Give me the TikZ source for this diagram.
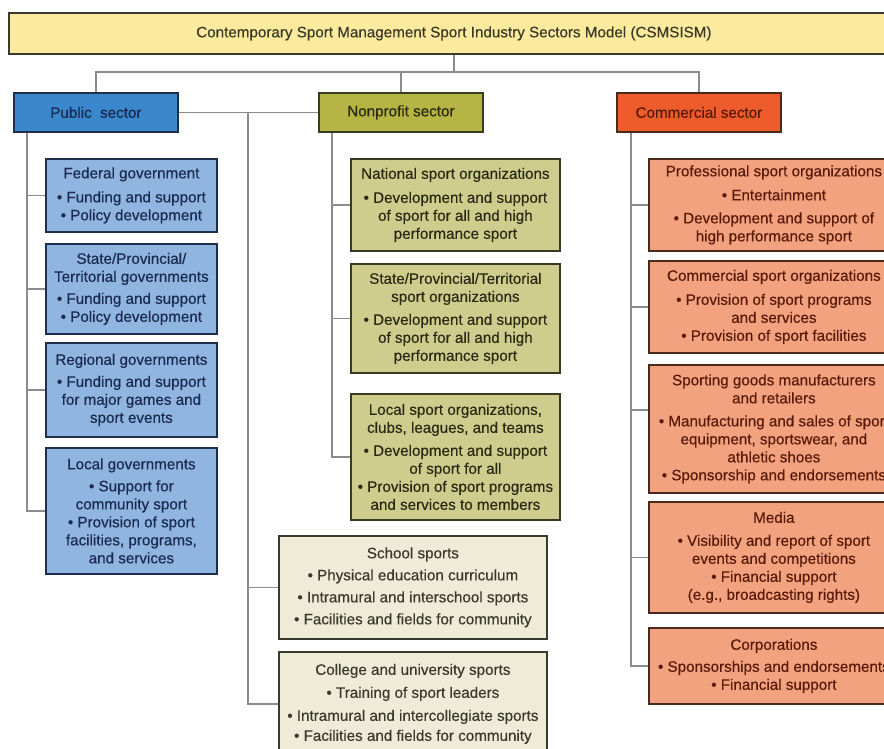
\documentclass[tikz,border=0pt]{standalone}
\usepackage{fontspec}
\setmainfont[FakeBold=0.4]{Liberation Sans}
\definecolor{titlefill}{HTML}{FCEB9E}
\definecolor{titleborder}{HTML}{3A3A30}
\definecolor{titletext}{HTML}{3A3A28}
\definecolor{pubhead}{HTML}{3A87CC}
\definecolor{pubbox}{HTML}{8FB5E0}
\definecolor{pubborder}{HTML}{1F2F4A}
\definecolor{pubtext}{HTML}{1A2A50}
\definecolor{nphead}{HTML}{B5B444}
\definecolor{npbox}{HTML}{CFCD8E}
\definecolor{npborder}{HTML}{3A3A20}
\definecolor{nptext}{HTML}{2A2A12}
\definecolor{comhead}{HTML}{EE5C2C}
\definecolor{combox}{HTML}{F2A27E}
\definecolor{comborder}{HTML}{4A2A1A}
\definecolor{comtext}{HTML}{5A1A0A}
\definecolor{schbox}{HTML}{EEECD6}
\definecolor{schborder}{HTML}{3A3A30}
\definecolor{linecol}{HTML}{8C8C8C}
\begin{document}
\begin{tikzpicture}[x=1pt,y=-1pt,
  box/.style={draw, line width=1.8pt, align=center, inner sep=0pt, anchor=north west,
    font=\fontsize{15.2}{18}\selectfont},
  titlebox/.style={box, fill=titlefill, draw=titleborder, text=titletext},
  pubh/.style={box, fill=pubhead, draw=pubborder, text=pubtext},
  pubb/.style={box, fill=pubbox, draw=pubborder, text=pubtext, minimum width=171},
  nph/.style={box, fill=nphead, draw=npborder, text=nptext},
  npb/.style={box, fill=npbox, draw=npborder, text=nptext, minimum width=209},
  comh/.style={box, fill=comhead, draw=comborder, text=comtext},
  comb/.style={box, fill=combox, draw=comborder, text=comtext, minimum width=250},
  schb/.style={box, fill=schbox, draw=schborder, text=titletext, minimum width=268},
  conn/.style={draw=linecol, line width=1.6pt}]
\useasboundingbox (0,0) rectangle (884,749);
\clip (0,0) rectangle (884,749);
\fill[white] (0,0) rectangle (884,749);

% title and sector headers
\node[titlebox, minimum width=890, minimum height=41] (title) at (8,12)
  {Contemporary Sport Management Sport Industry Sectors Model (CSMSISM)};
\node[pubh, minimum width=164, minimum height=39] (pubs) at (13,92) {Public\ \ sector};
\node[nph, minimum width=164, minimum height=39] (nps) at (318,92) {Nonprofit sector};
\node[comh, minimum width=164, minimum height=39] (coms) at (616,92) {Commercial sector};

% public sector boxes
\node[pubb, minimum height=73] (fed) at (45,158)
  {Federal government\\[6pt]• Funding and support\\• Policy development};
\node[pubb, minimum height=90] (stg) at (45,243)
  {State/Provincial/\\Territorial governments\\[4pt]• Funding and support\\• Policy development};
\node[pubb, minimum height=94] (reg) at (45,342)
  {Regional governments\\[4pt]• Funding and support\\for major games and\\sport events};
\node[pubb, minimum height=126] (locg) at (45,447)
  {Local governments\\[4pt]• Support for\\community sport\\• Provision of sport\\facilities, programs,\\and services};

% nonprofit sector boxes
\node[npb, minimum height=92] (nat) at (350,158)
  {National sport organizations\\[6pt]• Development and support\\of sport for all and high\\performance sport};
\node[npb, minimum height=109] (sts) at (350,263)
  {State/Provincial/Territorial\\sport organizations\\[5pt]• Development and support\\of sport for all and high\\performance sport};
\node[npb, minimum height=126] (lso) at (350,393)
  {Local sport organizations,\\clubs, leagues, and teams\\[5pt]• Development and support\\of sport for all\\• Provision of sport programs\\and services to members};

% school and college boxes
\node[schb, minimum height=103] (sch) at (278,535)
  {School sports\\[4pt]• Physical education curriculum\\[4pt]• Intramural and interschool sports\\[4pt]• Facilities and fields for community};
\node[schb, minimum height=104] (col) at (278,651)
  {College and university sports\\[5pt]• Training of sport leaders\\[5pt]• Intramural and intercollegiate sports\\[2pt]• Facilities and fields for community};

% commercial sector boxes
\node[comb, minimum height=92] (pro) at (648,158)
  {Professional sport organizations\\[6pt]• Entertainment\\[5pt]• Development and support of\\high performance sport};
\node[comb, minimum height=92] (cso) at (648,260)
  {Commercial sport organizations\\[6pt]• Provision of sport programs\\and services\\• Provision of sport facilities};
\node[comb, minimum height=128] (sgm) at (648,364)
  {Sporting goods manufacturers\\and retailers\\[5pt]• Manufacturing and sales of sport\\equipment, sportswear, and\\athletic shoes\\• Sponsorship and endorsements};
\node[comb, minimum height=111] (med) at (648,501)
  {Media\\[5pt]• Visibility and report of sport\\events and competitions\\• Financial support\\(e.g., broadcasting rights)};
\node[comb, minimum height=76] (cor) at (648,627)
  {Corporations\\[4pt]• Sponsorships and endorsements\\• Financial support};

% connectors
\coordinate (hb) at (0,72);
\coordinate (pv) at (27,0);
\coordinate (mv) at (248,0);
\coordinate (nv) at (332,0);
\coordinate (cv) at (631,0);
\coordinate (sgj) at (648,410);

\draw[conn] (title.south) -- (title.south |- hb);
\draw[conn] (pubs.north) |- (coms.north |- hb) -- (coms.north);
\draw[conn] (nps.north) -- (nps.north |- hb);
\draw[conn] (pubs.east) -- (nps.west);

\draw[conn] (pubs.south -| pv) |- (locg.west);
\draw[conn] (fed.west -| pv) -- (fed.west);
\draw[conn] (stg.west -| pv) -- (stg.west);
\draw[conn] (reg.west -| pv) -- (reg.west);

\draw[conn] (pubs.east -| mv) |- (col.west);
\draw[conn] (sch.west -| mv) -- (sch.west);

\draw[conn] (nps.south -| nv) |- (lso.west);
\draw[conn] (nat.west -| nv) -- (nat.west);
\draw[conn] (sts.west -| nv) -- (sts.west);

\draw[conn] (coms.south -| cv) |- (cor.west);
\draw[conn] (pro.west -| cv) -- (pro.west);
\draw[conn] (cso.west -| cv) -- (cso.west);
\draw[conn] (sgj -| cv) -- (sgj);
\draw[conn] (med.west -| cv) -- (med.west);
\end{tikzpicture}
\end{document}
